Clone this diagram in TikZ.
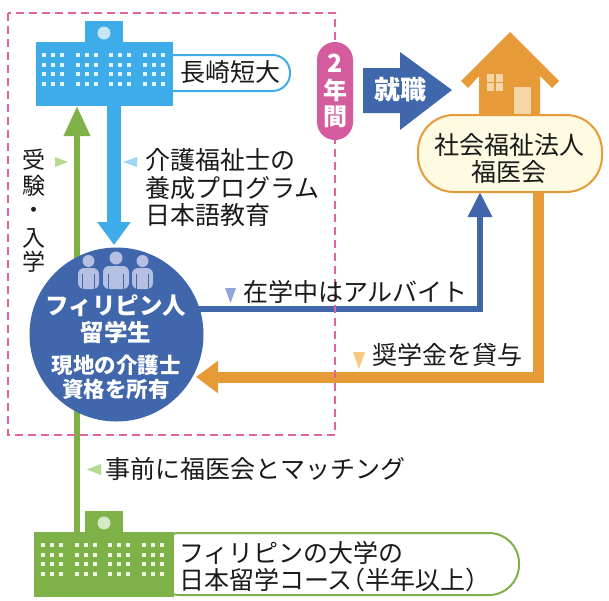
\documentclass[tikz,border=0pt]{standalone}
\usepackage{fontspec}
\setmainfont{Noto Sans CJK JP}
\usetikzlibrary{arrows.meta}
\definecolor{sky}{HTML}{3EACE8}
\definecolor{skydot}{HTML}{E2F3FC}
\definecolor{skylight}{HTML}{C6E6F8}
\definecolor{skymark}{HTML}{9DD5F5}
\definecolor{leaf}{HTML}{7EB248}
\definecolor{leafdot}{HTML}{EEF6E4}
\definecolor{leaflight}{HTML}{D5E9C2}
\definecolor{leafmark}{HTML}{B6DA92}
\definecolor{navy}{HTML}{4066AC}
\definecolor{navymark}{HTML}{90A6D8}
\definecolor{person}{HTML}{B4BFE2}
\definecolor{amber}{HTML}{E69A38}
\definecolor{amberlight}{HTML}{F6D6A6}
\definecolor{ambermark}{HTML}{F5C97E}
\definecolor{cream}{HTML}{FFFAE2}
\definecolor{pinkdash}{HTML}{E0629E}
\definecolor{pinkpill}{HTML}{D45C9E}
\definecolor{ink}{HTML}{1A1A1A}
\newcommand\jtext{\fontsize{25}{27.5}\selectfont}
\newcommand\jvert{\fontsize{23}{24}\selectfont}
\newcommand\jsmall{\fontsize{21.5}{24}\selectfont\bfseries}
\newcommand\jbold{\fontsize{23.5}{27}\selectfont\bfseries}
\begin{document}
\begin{tikzpicture}[x=1pt,y=-1pt,
  lbl/.style={font=\jtext, text=ink, inner sep=0pt, anchor=west, align=left},
  vchar/.style={font=\jvert, text=ink, inner sep=0pt},
  whitetxt/.style={text=white, inner sep=0pt},
]
\useasboundingbox (0,0) rectangle (609,600);
\fill[white] (0,0) rectangle (609,600);

% ---------- named coordinates ----------
\coordinate (nagaTop) at (77,106);
\coordinate (uniTop) at (77,532);
\coordinate (nagaBot) at (114,106);
\coordinate (stuTop) at (114,245);
\coordinate (stuE) at (196,309);
\coordinate (fukuBotL) at (480,192);
\coordinate (fukuBotR) at (538,192);
\coordinate (stuE2) at (196,377);

% ---------- house ----------
\fill[amber] (510,32) -- (559,81) -- (552,88) -- (540,76) -- (540,130) -- (479,130)
  -- (479,76) -- (468,88) -- (461,81) -- cycle;
\fill[amberlight] (487,74) rectangle (503,91);
\draw[amber, line width=1.2pt] (495,74) -- (495,91) (487,82.5) -- (503,82.5);
\fill[amberlight] (514,87) rectangle (531,120);

% ---------- connectors ----------
\draw[leaf, line width=6.5pt, -{Triangle[length=30pt,width=25pt]}] (uniTop) -- (nagaTop);
\draw[navy, line width=6pt, -{Triangle[length=25pt,width=23pt]}] (stuE) -| (fukuBotL);
\draw[amber, line width=11pt, -{Triangle[length=22pt,width=31pt]}] (fukuBotR) |- (stuE2);

% ---------- labels (behind buildings) ----------
\node[draw=sky, line width=2pt, fill=white, rounded corners=17.5pt,
  minimum width=140pt, minimum height=36pt, inner sep=0pt] (nagaLbl) at (220,73) {};
\node[lbl] (nagaTxt) at (180,72) {長崎短大};
\node[draw=leaf, line width=2pt, fill=white, rounded corners=30pt,
  minimum width=369pt, minimum height=62pt, inner sep=0pt] (uniLbl) at (334.5,564) {};
\node[lbl] (uniTxt) at (179,566.5) {フィリピンの大学の\\日本留学コース\kern-.5em（半年以上）};

% ---------- Nagasaki building ----------
\fill[sky] (36,42) rectangle (173,106);
\fill[sky] (85,21) rectangle (123,43);
\fill[skylight] (104,33) circle (6.5);
\foreach \gx in {44.3,77.7,111,145}
  \foreach \dx in {0,9,18}
    \foreach \ry in {55,64.7,74.3,84}
      \fill[skydot] (\gx+\dx-2,\ry-2) rectangle ++(4,4);
\draw[sky, line width=14pt, -{Triangle[length=23pt,width=32pt]}] (nagaBot) -- (stuTop);

% ---------- Philippine university building ----------
\fill[leaf] (34,532) rectangle (174,597);
\fill[leaf] (85,511) rectangle (123,533);
\fill[leaflight] (104,523) circle (6.5);
\foreach \gx in {43.3,76.7,110,144}
  \foreach \dx in {0,9,18}
    \foreach \ry in {545,554.7,564.3,574}
      \fill[leafdot] (\gx+\dx-2,\ry-2) rectangle ++(4,4);

% ---------- pink dashed frame ----------
\draw[pinkdash, line width=2pt, dash pattern=on 8pt off 5pt] (8,13) rectangle (335,435);

% ---------- student circle ----------
\node[circle, fill=navy, minimum size=174pt, inner sep=0pt] (stu) at (116.5,334.5) {};
\foreach \cx/\cy/\r/\bl/\br/\bt in {88.5/261/6/78/99/268, 142.5/261/6/132/153/268, 116/258/6.5/103/129/266}{
  \fill[person] (\cx,\cy) circle (\r);
  \fill[person, rounded corners=6pt] (\bl,289) -- (\bl,\bt) -- (\br,\bt) -- (\br,289) -- cycle;
  \draw[navy, line width=1.3pt] ({\bl+0.22*(\br-\bl)},274) -- ({\bl+0.22*(\br-\bl)},289.5)
     ({\br-0.22*(\br-\bl)},274) -- ({\br-0.22*(\br-\bl)},289.5);
}
\node[whitetxt, font=\jbold] (stu1) at (116,306) {フィリピン人};
\node[whitetxt, font=\jbold] (stu2) at (116,332) {留学生};
\node[whitetxt, font=\jsmall] (stu3) at (116,365) {現地の介護士};
\node[whitetxt, font=\jsmall] (stu4) at (116,389) {資格を所有};

% ---------- Fukuikai label ----------
\node[draw=amber, line width=2pt, fill=cream, rounded corners=36pt,
  minimum width=184pt, minimum height=77pt, inner sep=0pt] (fuku) at (510,153.5) {};
\node[font=\jtext, text=ink, inner sep=0pt, align=center] (fukuTxt) at (509,158.5) {社会福祉法人\\福医会};

% ---------- 2 years pill and employment arrow ----------
\node[fill=pinkpill, rounded corners=18pt, minimum width=36pt, minimum height=98pt, inner sep=0pt] (pill) at (335,91) {};
\node[whitetxt, font=\fontsize{25}{27}\selectfont\bfseries] (p1) at (335,63) {2};
\node[whitetxt, font=\fontsize{24}{27}\selectfont\bfseries] (p2) at (335,90) {年};
\node[whitetxt, font=\fontsize{24}{27}\selectfont\bfseries] (p3) at (335,117) {間};
\fill[navy] (363,68) -- (400,68) -- (400,52) -- (452,90) -- (400,130) -- (400,113) -- (363,113) -- cycle;
\node[whitetxt, font=\fontsize{26}{28}\selectfont\bfseries] (job) at (400,90) {就職};

% ---------- markers ----------
\fill[leafmark] (55,157) -- (55,167) -- (68,162) -- cycle;
\fill[skymark] (137,157) -- (137,167) -- (123,162) -- cycle;
\fill[navymark] (225,288) -- (236,288) -- (230.5,303) -- cycle;
\fill[ambermark] (353,352) -- (365,352) -- (359,369) -- cycle;
\fill[leafmark] (101,464) -- (101,475) -- (87,469.5) -- cycle;

% ---------- texts ----------
\node[lbl] (careTxt) at (145,188) {介護福祉士の\\養成プログラム\\日本語教育};
\node[lbl] (workTxt) at (243,292) {在学中はアルバイト};
\node[lbl] (schTxt) at (372,355) {奨学金を貸与};
\node[lbl] (matchTxt) at (105,469) {事前に福医会とマッチング};
\node[vchar] (v1) at (34,160) {受};
\node[vchar] (v2) at (34,186) {験};
\node[vchar] (v3) at (34,213) {・};
\node[vchar] (v4) at (34,238) {入};
\node[vchar] (v5) at (34,262) {学};
\end{tikzpicture}
\end{document}
